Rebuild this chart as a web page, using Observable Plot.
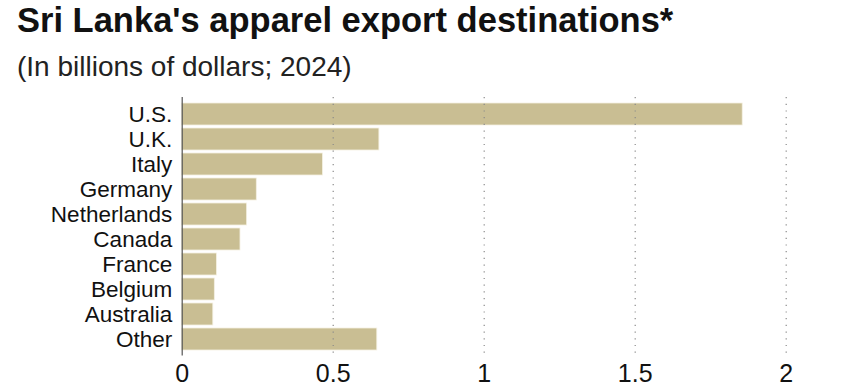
<!DOCTYPE html>
<html>
<head>
<meta charset="utf-8">
<script src="https://cdn.jsdelivr.net/npm/d3@7"></script>
<script src="https://cdn.jsdelivr.net/npm/@observablehq/plot@0.6"></script>
<style>
  html, body { margin: 0; padding: 0; background: #fff; }
  body { width: 868px; height: 392px; position: relative; overflow: hidden; font-family: "Liberation Sans", Arial, sans-serif; color: #111; }
  #title { position: absolute; left: 17px; top: 3px; font-size: 34.5px; line-height: 34px; font-weight: bold; white-space: nowrap; color: #111; }
  #subtitle { position: absolute; left: 17px; top: 53px; font-size: 28px; line-height: 28px; white-space: nowrap; color: #222; }
  #chart { position: absolute; left: 0; top: 90px; }
</style>
</head>
<body>
<div id="title">Sri Lanka's apparel export destinations*</div>
<div id="subtitle">(In billions of dollars; 2024)</div>
<div id="chart"></div>
<script>
const countries = ["U.S.", "U.K.", "Italy", "Germany", "Netherlands", "Canada", "France", "Belgium", "Australia", "Other"];
const values = [1.856, 0.653, 0.466, 0.247, 0.215, 0.193, 0.115, 0.108, 0.103, 0.646];
const xTicks = [0, 0.5, 1, 1.5, 2];
const xTickLabels = ["0", "0.5", "1", "1.5", "2"];

const data = countries.map((c, i) => ({country: c, value: values[i]}));

const chart = Plot.plot({
  width: 868,
  height: 302,
  marginLeft: 181.7,
  marginRight: 82.3,
  marginTop: 7,
  marginBottom: 36.4,
  style: {fontFamily: "'Liberation Sans', Arial, sans-serif", background: "transparent", overflow: "visible"},
  x: {domain: [0, 2], ticks: xTicks, tickFormat: (d) => xTickLabels[xTicks.indexOf(d)]},
  y: {domain: countries, padding: 0.12},
  marks: [
    Plot.barX(data, {x: "value", y: "country", fill: "#c9be93", stroke: "#f4f0e2", strokeWidth: 0.8}),
    Plot.gridX(xTicks.filter(d => d > 0), {stroke: "#8a8a8a", strokeOpacity: 1, strokeWidth: 1.2, strokeDasharray: "1.2,5.5"}),
    Plot.ruleX([0], {stroke: "#555", strokeWidth: 1.2}),
    Plot.axisX({ticks: xTicks, tickFormat: (d) => xTickLabels[xTicks.indexOf(d)], tickSize: 0, tickPadding: 8, fontSize: 25, fill: "#111", label: null}),
    Plot.axisY({tickSize: 0, tickPadding: 10, fontSize: 22.5, fill: "#111", label: null, style: {letterSpacing: "0.9px"}})
  ]
});
document.getElementById("chart").appendChild(chart);
</script>
</body>
</html>
